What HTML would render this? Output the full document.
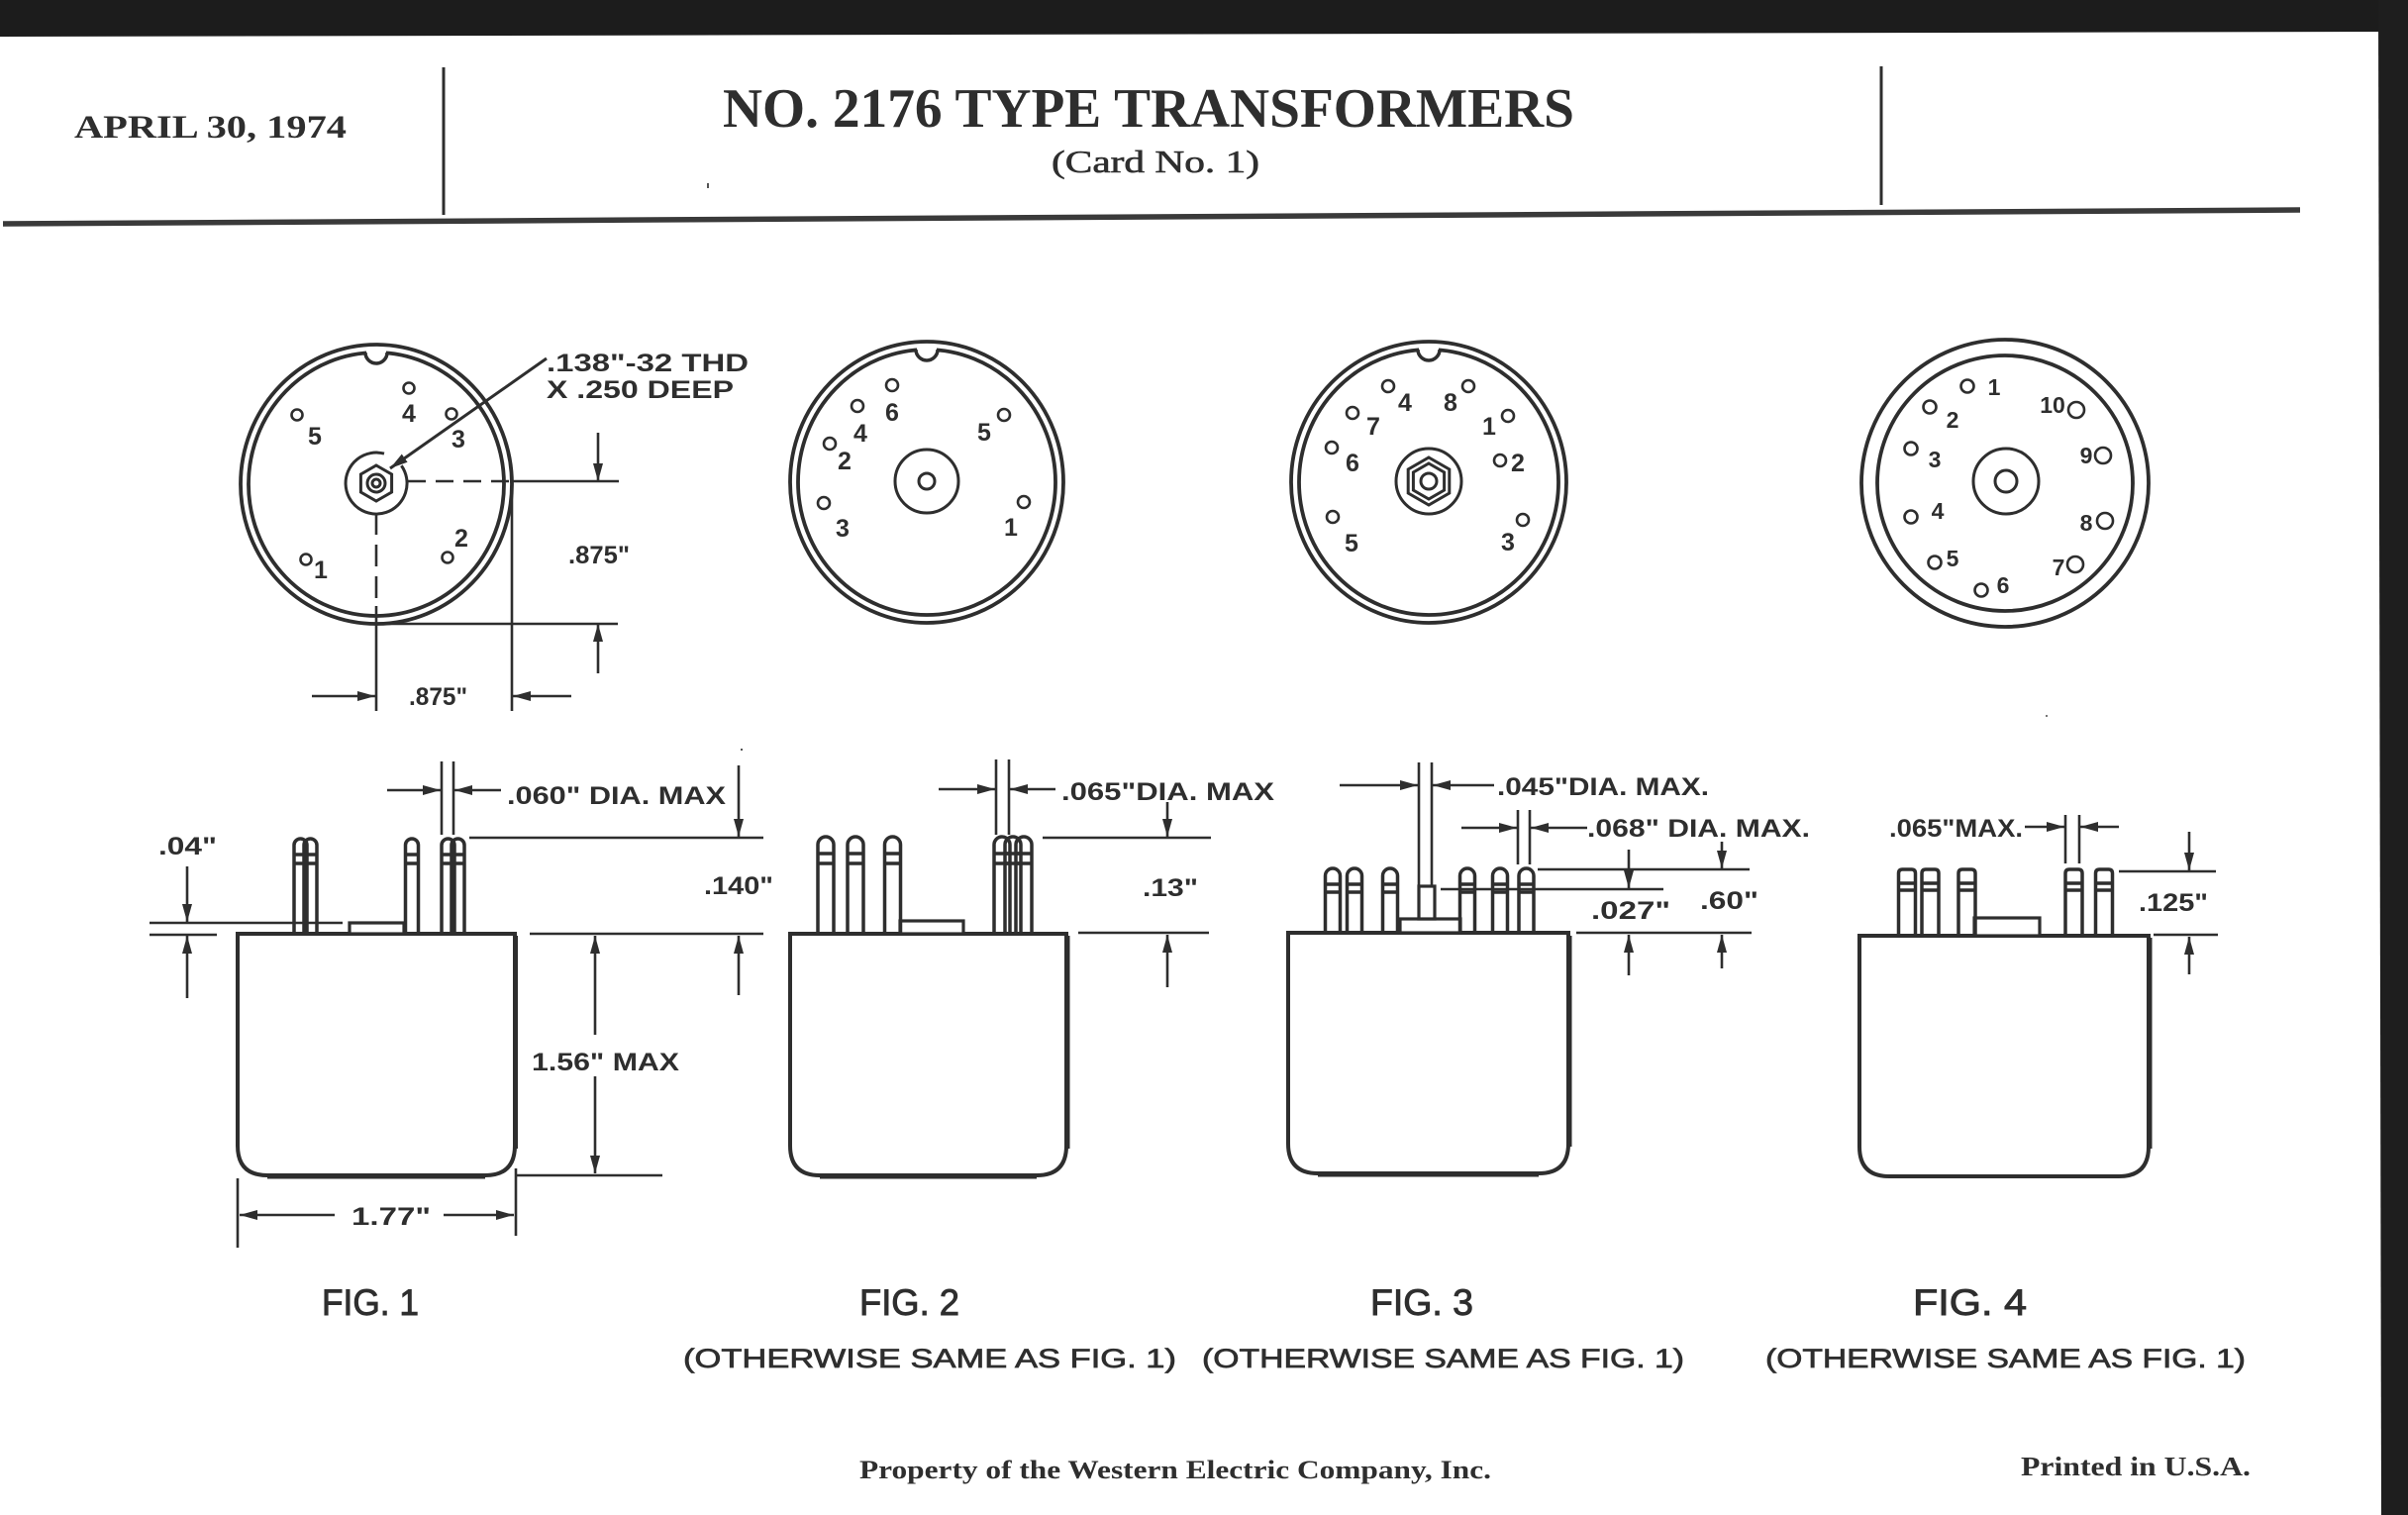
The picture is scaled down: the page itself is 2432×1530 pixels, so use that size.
<!DOCTYPE html>
<html><head><meta charset="utf-8"><style>
html,body{margin:0;padding:0;background:#fff;}
svg{display:block;}
.s{font-family:"Liberation Sans",sans-serif;font-weight:bold;fill:#2e2e2e;}
.r{font-family:"Liberation Serif",serif;font-weight:bold;fill:#2e2e2e;}
.rn{font-family:"Liberation Serif",serif;fill:#2e2e2e;}
</style></head><body>
<svg width="2432" height="1530" viewBox="0 0 2432 1530" xmlns="http://www.w3.org/2000/svg">
<defs>
<marker id="a" viewBox="0 0 18 10" refX="18" refY="5" markerWidth="18" markerHeight="10" markerUnits="userSpaceOnUse" orient="auto"><path d="M0,0L18,5L0,10z" fill="#2e2e2e"/></marker>
<g id="p1" fill="none" stroke="#2e2e2e" stroke-width="3.5"><path d="M-6.5,96V6.5A6.5,6.5 0 0 1 6.5,6.5V96M-6.5,16H6.5M-6.5,25H6.5"/></g>
<g id="p2" fill="none" stroke="#2e2e2e" stroke-width="3.5"><path d="M-8,98V8A8,8 0 0 1 8,8V98M-8,17H8M-8,27H8"/></g>
<g id="p3" fill="none" stroke="#2e2e2e" stroke-width="3.5"><path d="M-7.5,65V7.5A7.5,7.5 0 0 1 7.5,7.5V65M-7.5,16H7.5M-7.5,24H7.5"/></g>
<g id="p4" fill="none" stroke="#2e2e2e" stroke-width="3.5"><path d="M-8.5,67V4Q-8.5,0 -4.5,0H4.5Q8.5,0 8.5,4V67M-8.5,14H8.5M-8.5,21H8.5"/></g>
</defs>

<!-- scan borders -->
<polygon points="0,0 2432,0 2432,32 0,37" fill="#1c1c1c"/>
<polygon points="2402,0 2432,0 2432,1530 2405,1530" fill="#1e1e1e"/>

<!-- header -->
<text class="r" x="75" y="139" font-size="33" textLength="275" lengthAdjust="spacingAndGlyphs">APRIL 30, 1974</text>
<line x1="448" y1="68" x2="448" y2="217" stroke="#2e2e2e" stroke-width="3"/>
<line x1="1900" y1="67" x2="1900" y2="207" stroke="#2e2e2e" stroke-width="3"/>
<text class="r" x="730" y="128" font-size="56" textLength="860" lengthAdjust="spacingAndGlyphs">NO. 2176 TYPE TRANSFORMERS</text>
<text class="rn" x="1062" y="174" font-size="32" textLength="210" lengthAdjust="spacingAndGlyphs" stroke="#2e2e2e" stroke-width="0.6">(Card No. 1)</text>
<line x1="3" y1="226" x2="2323" y2="212" stroke="#3a3a3a" stroke-width="5.5"/>
<rect x="714" y="185" width="2" height="5" fill="#555"/>

<g fill="none" stroke="#2e2e2e" stroke-width="3.8">
<ellipse cx="380" cy="489" rx="137" ry="141"/>
<ellipse cx="380" cy="489" rx="129" ry="133"/>
<ellipse cx="936" cy="487" rx="138" ry="142"/>
<ellipse cx="936" cy="487" rx="130" ry="134"/>
<ellipse cx="1443" cy="487" rx="139" ry="142"/>
<ellipse cx="1443" cy="487" rx="131" ry="134"/>
<ellipse cx="2025" cy="488" rx="145" ry="145"/>
<ellipse cx="2025" cy="488" rx="129" ry="129"/>
</g>
<rect x="370" y="351" width="20" height="8" fill="#fff"/>
<rect x="926" y="348" width="20" height="8" fill="#fff"/>
<rect x="1433" y="349" width="20" height="8" fill="#fff"/>
<g fill="none" stroke="#2e2e2e" stroke-width="3.5">
<path d="M369,356A11,11 0 0 0 391,356"/>
<path d="M925,353A11,11 0 0 0 947,353"/>
<path d="M1432,353A11,11 0 0 0 1454,353"/>
</g>

<g fill="none" stroke="#2e2e2e" stroke-width="3">
<path d="M405.4,470.2A31,31 0 1 1 388,458.1"/>
<polygon points="380,470 395.6,479 395.6,497 380,506 364.4,497 364.4,479"/>
<circle cx="380" cy="488" r="9"/>
<circle cx="380" cy="488" r="4"/>
<circle cx="936" cy="486" r="32"/>
<circle cx="936" cy="486" r="8"/>
<circle cx="1443" cy="486" r="33"/>
<polygon points="1443,462 1463.8,474 1463.8,498 1443,510 1422.2,498 1422.2,474"/>
<polygon points="1443,468 1458.6,477 1458.6,495 1443,504 1427.4,495 1427.4,477"/>
<circle cx="1443" cy="486" r="8"/>
<circle cx="2026" cy="486" r="33"/>
<circle cx="2026" cy="486" r="11"/>
</g>

<g fill="none" stroke="#2e2e2e" stroke-width="2.6">
<circle cx="413" cy="392" r="5.5"/><circle cx="300" cy="419" r="5.5"/><circle cx="456" cy="418" r="5.5"/><circle cx="452" cy="563" r="5.5"/><circle cx="309" cy="565" r="5.5"/>
<circle cx="901" cy="389" r="6"/><circle cx="866" cy="410" r="6"/><circle cx="838" cy="448" r="6"/><circle cx="832" cy="508" r="6"/><circle cx="1014" cy="419" r="6"/><circle cx="1034" cy="507" r="6"/>
<circle cx="1402" cy="390" r="6"/><circle cx="1483" cy="390" r="6"/><circle cx="1366" cy="417" r="6"/><circle cx="1523" cy="420" r="6"/><circle cx="1345" cy="452" r="6"/><circle cx="1515" cy="465" r="6"/><circle cx="1346" cy="522" r="6"/><circle cx="1538" cy="525" r="6"/>
<circle cx="1987" cy="390" r="6.5"/><circle cx="1949" cy="411" r="6.5"/><circle cx="1930" cy="453" r="6.5"/><circle cx="1930" cy="522" r="6.5"/><circle cx="1954" cy="568" r="6.5"/><circle cx="2001" cy="596" r="6.5"/>
<circle cx="2097" cy="414" r="8"/><circle cx="2124" cy="460" r="8"/><circle cx="2126" cy="526" r="8"/><circle cx="2096" cy="570" r="8"/>
</g>

<g class="s" font-size="25" text-anchor="middle">
<text x="413" y="426">4</text><text x="318" y="449">5</text><text x="463" y="452">3</text><text x="466" y="552">2</text><text x="324" y="584">1</text>
<text x="901" y="425">6</text><text x="869" y="446">4</text><text x="853" y="474">2</text><text x="851" y="542">3</text><text x="994" y="445">5</text><text x="1021" y="541">1</text>
<text x="1419" y="415">4</text><text x="1465" y="415">8</text><text x="1387" y="439">7</text><text x="1504" y="439">1</text><text x="1366" y="476">6</text><text x="1533" y="476">2</text><text x="1365" y="557">5</text><text x="1523" y="556">3</text>
</g>
<g class="s" font-size="23" text-anchor="middle">
<text x="2014" y="399">1</text><text x="1972" y="432">2</text><text x="1954" y="472">3</text><text x="1957" y="524">4</text><text x="1972" y="572">5</text><text x="2023" y="599">6</text>
<text x="2073" y="417">10</text><text x="2107" y="468">9</text><text x="2107" y="536">8</text><text x="2079" y="581">7</text>
</g>

<g stroke="#2e2e2e" stroke-width="2.6" fill="none">
<line x1="552" y1="362" x2="394" y2="473" marker-end="url(#a)" stroke-width="3"/>
<line x1="412" y1="486" x2="517" y2="486" stroke-dasharray="18 10"/>
<line x1="517" y1="486" x2="625" y2="486"/>
<line x1="380" y1="518" x2="380" y2="612" stroke-dasharray="22 10"/>
<line x1="380" y1="612" x2="380" y2="718"/>
<line x1="380" y1="630" x2="624" y2="630"/>
<line x1="517" y1="486" x2="517" y2="718"/>
<line x1="604" y1="437" x2="604" y2="486" marker-end="url(#a)"/>
<line x1="604" y1="680" x2="604" y2="630" marker-end="url(#a)"/>
<line x1="315" y1="703" x2="379" y2="703" marker-end="url(#a)"/>
<line x1="577" y1="703" x2="518" y2="703" marker-end="url(#a)"/>
</g>
<g class="s" font-size="25">
<text x="552" y="375" textLength="204" lengthAdjust="spacingAndGlyphs">.138"-32 THD</text>
<text x="552" y="402" textLength="189" lengthAdjust="spacingAndGlyphs">X .250 DEEP</text>
<text x="574" y="569" textLength="62" lengthAdjust="spacingAndGlyphs">.875"</text>
<text x="413" y="712" textLength="59" lengthAdjust="spacingAndGlyphs">.875"</text>
</g>

<g fill="none" stroke="#2e2e2e" stroke-width="4">
<path d="M240,943V1157Q240,1187 270,1187H490Q520,1187 520,1157V943Z"/>
<path d="M798,943V1157Q798,1187 828,1187H1047Q1077,1187 1077,1157V943Z"/>
<path d="M1301,942V1155Q1301,1185 1331,1185H1554Q1584,1185 1584,1155V942Z"/>
<path d="M1878,945V1158Q1878,1188 1908,1188H2140Q2170,1188 2170,1158V945Z"/>
</g>
<g stroke="#2e2e2e" stroke-width="3" fill="none">
<line x1="521.5" y1="945" x2="521.5" y2="1160"/>
<line x1="1079" y1="945" x2="1079" y2="1160"/>
<line x1="1586" y1="945" x2="1586" y2="1158"/>
<line x1="2172" y1="947" x2="2172" y2="1160"/>
<line x1="270" y1="1189" x2="490" y2="1189"/>
<line x1="828" y1="1189" x2="1047" y2="1189"/>
<line x1="1331" y1="1187" x2="1554" y2="1187"/>
</g>

<g fill="#fff" stroke="#2e2e2e" stroke-width="3.2">
<rect x="353" y="932" width="55" height="11"/>
<rect x="909" y="930" width="64" height="13"/>
<rect x="1414" y="928" width="61" height="14"/>
<rect x="1433" y="895" width="16" height="33"/>
<rect x="1994" y="927" width="66" height="18"/>
</g>

<use href="#p1" x="303.5" y="847"/><use href="#p1" x="313.5" y="847"/><use href="#p1" x="416" y="847"/><use href="#p1" x="452.5" y="847"/><use href="#p1" x="462.5" y="847"/>
<use href="#p2" x="834" y="845"/><use href="#p2" x="864" y="845"/><use href="#p2" x="901.5" y="845"/><use href="#p2" x="1012" y="845"/><use href="#p2" x="1023" y="845"/><use href="#p2" x="1034" y="845"/>
<use href="#p3" x="1346" y="877"/><use href="#p3" x="1368" y="877"/><use href="#p3" x="1404" y="877"/><use href="#p3" x="1482" y="877"/><use href="#p3" x="1515" y="877"/><use href="#p3" x="1541.5" y="877"/>
<use href="#p4" x="1926" y="878"/><use href="#p4" x="1949.5" y="878"/><use href="#p4" x="1986.5" y="878"/><use href="#p4" x="2094.5" y="878"/><use href="#p4" x="2125" y="878"/>

<g stroke="#2e2e2e" stroke-width="2.6" fill="none">
<line x1="151" y1="932" x2="346" y2="932"/>
<line x1="151" y1="944" x2="219" y2="944"/>
<line x1="189" y1="875" x2="189" y2="931" marker-end="url(#a)"/>
<line x1="189" y1="1008" x2="189" y2="945" marker-end="url(#a)"/>
<line x1="446" y1="769" x2="446" y2="843"/>
<line x1="458" y1="769" x2="458" y2="843"/>
<line x1="391" y1="798" x2="445" y2="798" marker-end="url(#a)"/>
<line x1="506" y1="798" x2="459" y2="798" marker-end="url(#a)"/>
<line x1="746" y1="773" x2="746" y2="845" marker-end="url(#a)"/>
<line x1="474" y1="846" x2="771" y2="846"/>
<line x1="535" y1="943" x2="771" y2="943"/>
<line x1="746" y1="1005" x2="746" y2="945" marker-end="url(#a)"/>
<line x1="601" y1="1045" x2="601" y2="945" marker-end="url(#a)"/>
<line x1="601" y1="1087" x2="601" y2="1185" marker-end="url(#a)"/>
<line x1="522" y1="1187" x2="669" y2="1187"/>
<line x1="240" y1="1190" x2="240" y2="1260"/>
<line x1="521" y1="1180" x2="521" y2="1248"/>
<line x1="338" y1="1227" x2="242" y2="1227" marker-end="url(#a)"/>
<line x1="448" y1="1227" x2="519" y2="1227" marker-end="url(#a)"/>
</g>
<g class="s" font-size="25">
<text x="160" y="863" textLength="59" lengthAdjust="spacingAndGlyphs">.04"</text>
<text x="512" y="812" textLength="221" lengthAdjust="spacingAndGlyphs">.060" DIA. MAX</text>
<text x="711" y="903" textLength="70" lengthAdjust="spacingAndGlyphs">.140"</text>
<text x="537" y="1081" textLength="149" lengthAdjust="spacingAndGlyphs">1.56" MAX</text>
<text x="355" y="1237" textLength="80" lengthAdjust="spacingAndGlyphs">1.77"</text>
</g>

<g stroke="#2e2e2e" stroke-width="2.6" fill="none">
<line x1="1006" y1="767" x2="1006" y2="843"/>
<line x1="1019" y1="767" x2="1019" y2="843"/>
<line x1="948" y1="797" x2="1005" y2="797" marker-end="url(#a)"/>
<line x1="1066" y1="797" x2="1020" y2="797" marker-end="url(#a)"/>
<line x1="1179" y1="810" x2="1179" y2="845" marker-end="url(#a)"/>
<line x1="1053" y1="846" x2="1223" y2="846"/>
<line x1="1089" y1="942" x2="1221" y2="942"/>
<line x1="1179" y1="997" x2="1179" y2="944" marker-end="url(#a)"/>
</g>
<g class="s" font-size="25">
<text x="1072" y="808" textLength="215" lengthAdjust="spacingAndGlyphs">.065"DIA. MAX</text>
<text x="1154" y="905" textLength="56" lengthAdjust="spacingAndGlyphs">.13"</text>
</g>

<g stroke="#2e2e2e" stroke-width="2.6" fill="none">
<line x1="1433" y1="770" x2="1433" y2="895"/>
<line x1="1446" y1="770" x2="1446" y2="895"/>
<line x1="1353" y1="793" x2="1432" y2="793" marker-end="url(#a)"/>
<line x1="1509" y1="793" x2="1447" y2="793" marker-end="url(#a)"/>
<line x1="1533" y1="818" x2="1533" y2="873"/>
<line x1="1545" y1="818" x2="1545" y2="873"/>
<line x1="1476" y1="836" x2="1532" y2="836" marker-end="url(#a)"/>
<line x1="1603" y1="836" x2="1546" y2="836" marker-end="url(#a)"/>
<line x1="1553" y1="878" x2="1767" y2="878"/>
<line x1="1455" y1="898" x2="1680" y2="898"/>
<line x1="1645" y1="858" x2="1645" y2="897" marker-end="url(#a)"/>
<line x1="1645" y1="985" x2="1645" y2="944" marker-end="url(#a)"/>
<line x1="1739" y1="850" x2="1739" y2="877" marker-end="url(#a)"/>
<line x1="1739" y1="978" x2="1739" y2="944" marker-end="url(#a)"/>
<line x1="1592" y1="942" x2="1769" y2="942"/>
</g>
<g class="s" font-size="25">
<text x="1512" y="803" textLength="214" lengthAdjust="spacingAndGlyphs">.045"DIA. MAX.</text>
<text x="1603" y="845" textLength="225" lengthAdjust="spacingAndGlyphs">.068" DIA. MAX.</text>
<text x="1607" y="928" textLength="80" lengthAdjust="spacingAndGlyphs">.027"</text>
<text x="1717" y="918" textLength="59" lengthAdjust="spacingAndGlyphs">.60"</text>
</g>

<g stroke="#2e2e2e" stroke-width="2.6" fill="none">
<line x1="2045" y1="835" x2="2085" y2="835" marker-end="url(#a)"/>
<line x1="2086" y1="823" x2="2086" y2="872"/>
<line x1="2100" y1="823" x2="2100" y2="872"/>
<line x1="2140" y1="835" x2="2101" y2="835" marker-end="url(#a)"/>
<line x1="2211" y1="840" x2="2211" y2="879" marker-end="url(#a)"/>
<line x1="2140" y1="880" x2="2238" y2="880"/>
<line x1="2175" y1="944" x2="2240" y2="944"/>
<line x1="2211" y1="984" x2="2211" y2="946" marker-end="url(#a)"/>
</g>
<g class="s" font-size="25">
<text x="1908" y="845" textLength="135" lengthAdjust="spacingAndGlyphs">.065"MAX.</text>
<text x="2160" y="920" textLength="70" lengthAdjust="spacingAndGlyphs">.125"</text>
</g>

<g class="s" font-size="37" style="font-weight:normal" stroke="#2e2e2e" stroke-width="0.9">
<text x="325" y="1328" textLength="98" lengthAdjust="spacingAndGlyphs">FIG. 1</text>
<text x="868" y="1328" textLength="101" lengthAdjust="spacingAndGlyphs">FIG. 2</text>
<text x="1384" y="1328" textLength="104" lengthAdjust="spacingAndGlyphs">FIG. 3</text>
<text x="1932" y="1328" textLength="115" lengthAdjust="spacingAndGlyphs">FIG. 4</text>
</g>
<g class="s" font-size="27" style="font-weight:normal" stroke="#2e2e2e" stroke-width="0.7">
<text x="690" y="1381" textLength="498" lengthAdjust="spacingAndGlyphs">(OTHERWISE SAME AS FIG. 1)</text>
<text x="1214" y="1381" textLength="487" lengthAdjust="spacingAndGlyphs">(OTHERWISE SAME AS FIG. 1)</text>
<text x="1783" y="1381" textLength="485" lengthAdjust="spacingAndGlyphs">(OTHERWISE SAME AS FIG. 1)</text>
</g>

<text class="r" x="868" y="1493" font-size="26" textLength="638" lengthAdjust="spacingAndGlyphs">Property of the Western Electric Company, Inc.</text>
<text class="r" x="2041" y="1490" font-size="27" textLength="232" lengthAdjust="spacingAndGlyphs">Printed in U.S.A.</text>

<rect x="748" y="756" width="2" height="2" fill="#555"/>
<rect x="2066" y="722" width="2" height="2" fill="#777"/>
</svg>
</body></html>
